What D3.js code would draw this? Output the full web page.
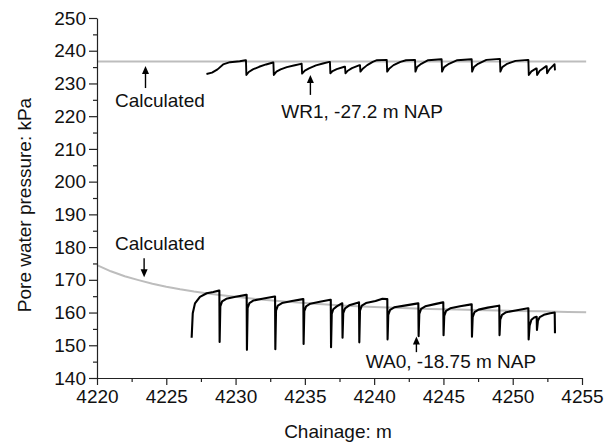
<!DOCTYPE html>
<html>
<head>
<meta charset="utf-8">
<script src="https://cdn.jsdelivr.net/npm/d3@7"></script>
<style>
  html, body { margin: 0; padding: 0; background: #fff; }
  svg { display: block; }
  text { font-family: "Liberation Sans", Arial, sans-serif; fill: #111; }
</style>
</head>
<body>
<svg id="chart" width="609" height="444"></svg>
<script>
// ---- data ----
const xTicks = [4220, 4225, 4230, 4235, 4240, 4245, 4250, 4255];
const yTicks = [140, 150, 160, 170, 180, 190, 200, 210, 220, 230, 240, 250];

// calculated pore pressure, WR1 level (flat)
const calcWR1 = [[4220, 236.7], [4255.3, 236.7]];

// calculated pore pressure, WA0 level
const calcWA0 = [
  [4220, 174.5], [4221, 172.6], [4222, 171.1], [4223, 169.9], [4224, 168.8],
  [4225, 167.9], [4226, 167.1], [4227, 166.4], [4228, 165.8], [4229, 165.3],
  [4230, 164.8], [4232, 163.9], [4234, 163.2], [4236, 162.6], [4238, 162.1],
  [4240, 161.7], [4242, 161.4], [4244, 161.1], [4246, 160.9], [4248, 160.7],
  [4250, 160.5], [4252, 160.4], [4254, 160.2], [4255.3, 160.1]
];

// measured WR1, -27.2 m NAP
const measWR1 = [
  [4227.9, 232.9], [4228.3, 233.3], [4228.7, 234.3], [4229.1, 235.8], [4229.6, 236.5], [4230.3, 236.8], [4230.72, 237.1],
  [4230.75, 237.1], [4230.78, 232.6], [4230.95, 233.5], [4231.25, 234.3], [4231.7, 235.1], [4232.2, 235.8], [4232.70, 236.4],
  [4232.73, 236.4], [4232.76, 232.6], [4232.95, 233.6], [4233.25, 234.3], [4233.7, 235.0], [4234.2, 235.5], [4234.72, 236.0],
  [4234.77, 236.0], [4234.80, 233.0], [4235.0, 233.9], [4235.3, 234.6], [4235.8, 235.5], [4236.3, 236.1], [4236.77, 236.6],
  [4236.81, 236.6], [4236.84, 233.1], [4237.0, 233.8], [4237.3, 234.4], [4237.85, 235.1],
  [4237.90, 235.1], [4237.93, 233.1], [4238.1, 233.9], [4238.4, 234.7], [4238.95, 235.6],
  [4238.98, 235.6], [4239.01, 233.6], [4239.2, 234.6], [4239.5, 235.6], [4239.9, 236.6], [4240.2, 237.1], [4240.88, 237.2],
  [4240.91, 237.2], [4240.94, 233.6], [4241.1, 234.6], [4241.4, 235.6], [4241.9, 236.6], [4242.3, 237.1], [4242.92, 237.2],
  [4242.95, 237.2], [4242.98, 233.6], [4243.1, 235.0], [4243.4, 236.0], [4243.9, 237.1], [4244.84, 237.4],
  [4244.87, 237.4], [4244.90, 233.6], [4245.05, 235.0], [4245.4, 236.0], [4246.0, 237.1], [4247.01, 237.4],
  [4247.04, 237.4], [4247.07, 233.6], [4247.2, 235.0], [4247.5, 236.0], [4248.1, 237.2], [4249.05, 237.5],
  [4249.08, 237.5], [4249.11, 233.6], [4249.25, 235.0], [4249.6, 236.0], [4250.2, 236.9], [4251.10, 237.2],
  [4251.13, 237.2], [4251.16, 232.6], [4251.35, 233.7], [4251.70, 234.6],
  [4251.73, 234.6], [4251.76, 232.6], [4251.95, 233.9], [4252.42, 235.3],
  [4252.45, 235.3], [4252.48, 233.1], [4252.65, 234.3], [4253.02, 235.9],
  [4253.05, 234.0]
];

// measured WA0, -18.75 m NAP
const measWA0 = [
  [4226.83, 152.3], [4226.91, 159.8], [4227.07, 162.8], [4227.43, 164.8], [4227.92, 165.9], [4228.39, 166.3], [4228.80, 166.7],
  [4228.83, 166.7], [4228.85, 151.0], [4228.90, 161.9], [4229.03, 163.4], [4229.33, 164.2], [4230.0, 164.8], [4230.77, 165.4],
  [4230.80, 165.4], [4230.82, 148.6], [4230.87, 161.4], [4231.00, 162.9], [4231.30, 163.7], [4232.03, 164.3], [4232.82, 164.9],
  [4232.85, 164.9], [4232.87, 148.8], [4232.92, 160.6], [4233.05, 162.1], [4233.35, 162.9], [4234.07, 163.5], [4234.86, 164.1],
  [4234.89, 164.1], [4234.91, 150.4], [4234.96, 160.4], [4235.09, 161.9], [4235.39, 162.7], [4236.08, 163.3], [4236.84, 163.9],
  [4236.87, 163.9], [4236.89, 149.4], [4236.94, 159.6], [4237.05, 161.0], [4237.30, 161.9], [4237.67, 162.8],
  [4237.70, 162.8], [4237.72, 152.3], [4237.77, 159.8], [4237.90, 161.3], [4238.20, 162.2], [4238.88, 163.1],
  [4238.91, 163.1], [4238.93, 150.9], [4238.98, 160.6], [4239.11, 162.1], [4239.41, 162.9], [4240.1, 163.5], [4240.6, 164.2], [4240.92, 164.1],
  [4240.95, 164.1], [4240.97, 151.8], [4241.02, 159.3], [4241.15, 160.8], [4241.45, 161.6], [4242.3, 162.2], [4243.16, 162.8],
  [4243.19, 162.8], [4243.21, 152.8], [4243.26, 159.6], [4243.39, 161.1], [4243.69, 161.9], [4244.3, 162.5], [4244.96, 163.1],
  [4244.99, 163.1], [4245.01, 153.1], [4245.06, 159.0], [4245.19, 160.5], [4245.49, 161.3], [4246.2, 161.9], [4247.01, 162.5],
  [4247.04, 162.5], [4247.06, 152.6], [4247.11, 158.6], [4247.24, 160.1], [4247.54, 160.9], [4248.2, 161.5], [4249.0, 162.1],
  [4249.03, 162.1], [4249.05, 153.1], [4249.10, 157.8], [4249.23, 159.3], [4249.53, 160.1], [4250.3, 160.7], [4251.10, 161.3],
  [4251.13, 161.3], [4251.15, 151.8], [4251.22, 156.0], [4251.35, 157.8], [4251.55, 158.5], [4251.71, 158.7],
  [4251.73, 158.7], [4251.75, 154.7], [4251.82, 157.5], [4251.95, 158.6], [4252.25, 159.3], [4252.7, 159.8], [4253.03, 160.0],
  [4253.05, 153.7]
];

// annotations: label, arrow chainage, arrow tail / tip (kPa), label anchor
const annotations = [
  { text: "Calculated", x: 4223.5, tail: 228.6, tip: 235.3, tx: 4221.3, ty: 222.8 },
  { text: "WR1, -27.2 m NAP", x: 4235.4, tail: 226.5, tip: 232.6, tx: 4233.3, ty: 219.4 },
  { text: "Calculated", x: 4223.4, tail: 176.6, tip: 170.8, tx: 4221.3, ty: 179.2 },
  { text: "WA0, -18.75 m NAP", x: 4243.05, tail: 147.9, tip: 152.7, tx: 4239.4, ty: 143.0 }
];

// ---- drawing ----
const svg = d3.select("#chart");
const x = d3.scaleLinear().domain([4220, 4255]).range([97, 582]);
const y = d3.scaleLinear().domain([140, 250]).range([378, 18]);

const line = d3.line().x(d => x(d[0])).y(d => y(d[1]));

svg.append("path").datum(calcWR1).attr("d", line)
  .attr("fill", "none").attr("stroke", "#bdbdbd").attr("stroke-width", 2);
svg.append("path").datum(calcWA0).attr("d", line)
  .attr("fill", "none").attr("stroke", "#bdbdbd").attr("stroke-width", 2);

svg.append("path").datum(measWR1).attr("d", line)
  .attr("fill", "none").attr("stroke", "#000").attr("stroke-width", 1.9)
  .attr("stroke-linejoin", "round");
svg.append("path").datum(measWA0).attr("d", line)
  .attr("fill", "none").attr("stroke", "#000").attr("stroke-width", 2.1)
  .attr("stroke-linejoin", "round");

// axes
const fs = 19;
const yMinor = d3.range(145, 250, 10);
const xMinor = d3.range(4222.5, 4255, 5);

const gy = svg.append("g").attr("transform", `translate(${x(4220)},0)`);
gy.call(d3.axisLeft(y).tickValues(yTicks).tickSize(8).tickPadding(3).tickSizeOuter(0));
gy.append("g").call(d3.axisLeft(y).tickValues(yMinor).tickSize(4).tickFormat(""))
  .select(".domain").remove();

const gx = svg.append("g").attr("transform", `translate(0,${y(140)})`);
gx.call(d3.axisBottom(x).tickValues(xTicks).tickSize(7).tickPadding(5).tickSizeOuter(0)
  .tickFormat(d3.format("d")));
gx.append("g").call(d3.axisBottom(x).tickValues(xMinor).tickSize(4).tickFormat(""))
  .select(".domain").remove();

svg.selectAll(".tick text").attr("font-size", fs).attr("font-family", "Liberation Sans, Arial, sans-serif").attr("fill", "#111");
svg.selectAll(".domain, .tick line").attr("stroke", "#222").attr("stroke-width", 1.2);

// axis titles
svg.append("text").attr("x", 338).attr("y", 438).attr("text-anchor", "middle")
  .attr("font-size", fs).text("Chainage: m");
svg.append("text").attr("transform", "translate(31,205) rotate(-90)")
  .attr("text-anchor", "middle").attr("font-size", fs).text("Pore water pressure: kPa");

// annotations
annotations.forEach(a => {
  const ax = x(a.x), y1 = y(a.tail), y2 = y(a.tip);
  const dir = y2 < y1 ? 1 : -1; // 1 = pointing up
  const headLen = 8, headW = 3.5;
  svg.append("line").attr("x1", ax).attr("x2", ax).attr("y1", y1).attr("y2", y2 + dir * headLen * 0.8)
    .attr("stroke", "#000").attr("stroke-width", 1.4);
  svg.append("path")
    .attr("d", `M${ax},${y2} L${ax - headW},${y2 + dir * headLen} L${ax + headW},${y2 + dir * headLen} Z`)
    .attr("fill", "#000");
  svg.append("text").attr("x", x(a.tx)).attr("y", y(a.ty)).attr("font-size", fs).text(a.text);
});
</script>
</body>
</html>
